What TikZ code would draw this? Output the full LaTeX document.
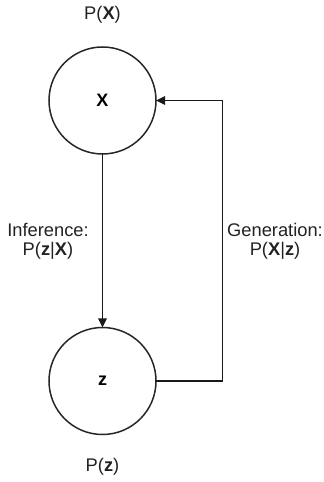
\documentclass[tikz,border=0pt]{standalone}
\usepackage{fontspec}
\setmainfont{Liberation Sans}
\usetikzlibrary{arrows.meta}
\definecolor{txt}{HTML}{222222}
\tikzset{
  var/.style={circle, draw=black!85, line width=1.5pt, minimum size=107pt, inner sep=0pt, outer sep=0pt, font=\fontsize{18}{20}\selectfont\bfseries},
  lbl/.style={text=txt, font=\fontsize{18.3}{19}\selectfont, align=center, inner sep=0pt},
  conn/.style={line width=1.5pt, draw=black!90, -{Triangle[length=9pt,width=8.5pt]}}
}
\begin{document}
\begin{tikzpicture}[x=1pt,y=1pt]
  \useasboundingbox (0,0) rectangle (324,482);
  \node[var] (x) at (102.5,381.5) {X};
  \node[var] (z) at (102.5,101) {z};
  \node[lbl] (px) at (102.5,467) {P(\textbf{X})};
  \node[lbl] (pz) at (102.5,15) {P(\textbf{z})};
  \node[lbl] (inf) at (48,241) {Inference:\\P(\textbf{z}|\textbf{X})};
  \node[lbl] (gen) at (275,241) {Generation:\\P(\textbf{X}|\textbf{z})};
  \coordinate (c) at (222.7,0);
  \draw[conn] (x.south) -- (z.north);
  \draw[conn] (z.east) -- (z.east -| c) -- (x.east -| c) -- (x.east);
\end{tikzpicture}
\end{document}
